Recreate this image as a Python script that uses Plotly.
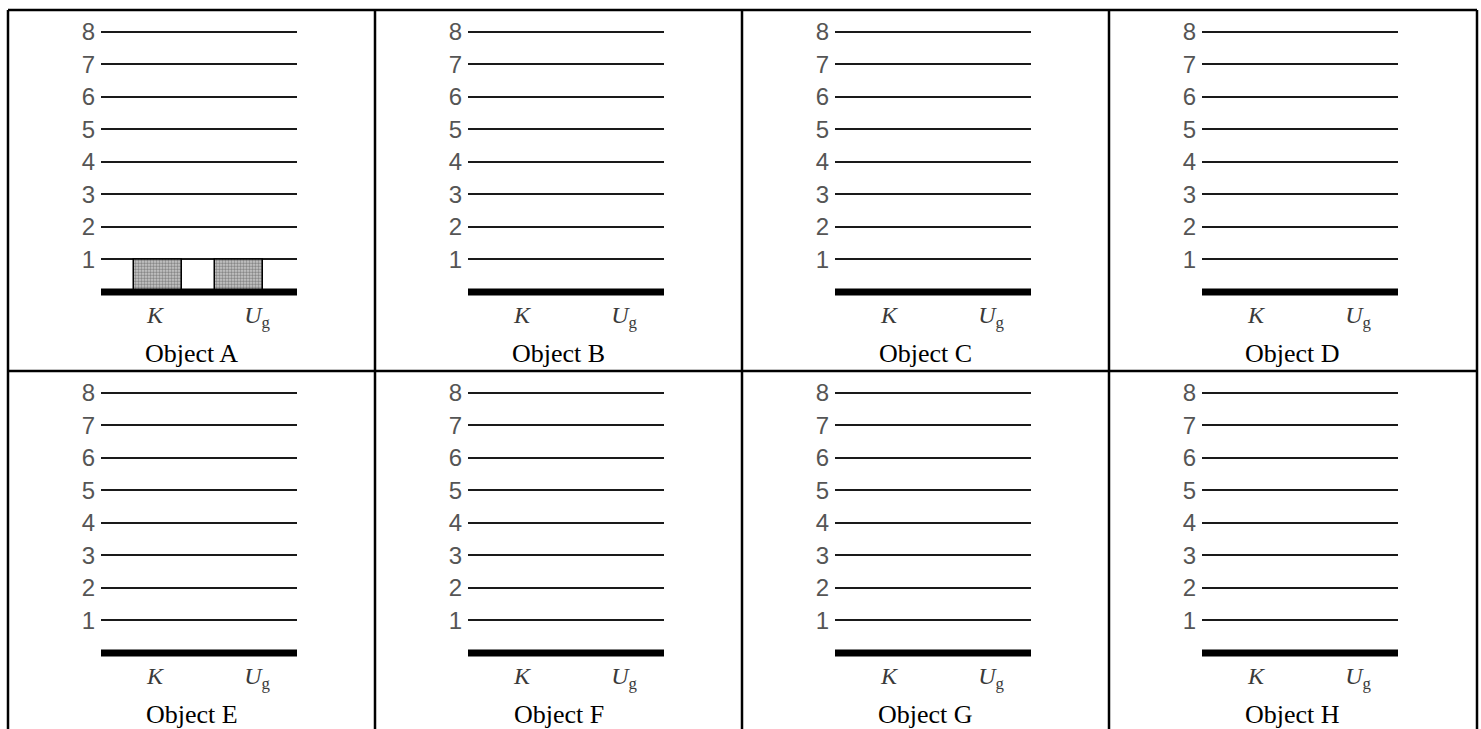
import plotly.graph_objects as go

# Energy bar charts for eight objects: kinetic energy K and gravitational potential U_g
objects = ["Object A", "Object B", "Object C", "Object D",
           "Object E", "Object F", "Object G", "Object H"]
categories = ["K", "U_g"]
category_labels = ["<i>K</i>", "<i>U</i><sub>g</sub>"]
k_values = [1, 0, 0, 0, 0, 0, 0, 0]
ug_values = [1, 0, 0, 0, 0, 0, 0, 0]
level_ticks = [1, 2, 3, 4, 5, 6, 7, 8]

W, H = 1481, 729
col_left = [8, 375, 742, 1109]
col_w = 367
row_top = [6, 369]

Y_MIN, Y_MAX = -0.2, 8.3
UNIT = 32.72            # pixels per energy unit
ZERO_OFF = 283.5        # pixel offset of the zero level below the cell top


def px_x(p):
    return p / W


def px_y(p):
    return 1 - p / H


fig = go.Figure()
shapes = []
annotations = []

for i, name in enumerate(objects):
    r, c = divmod(i, 4)
    n = i + 1
    sfx = "" if n == 1 else str(n)
    left = col_left[c]
    top = row_top[r]

    x0p, x1p = left + 93, left + 289
    y_top_p = top + ZERO_OFF - Y_MAX * UNIT
    y_bot_p = top + ZERO_OFF - Y_MIN * UNIT

    fig.add_trace(go.Bar(
        x=categories,
        y=[k_values[i], ug_values[i]],
        width=0.475,
        offset=[-0.206, -0.412],
        marker=dict(
            color="#a0a0a0",
            line=dict(color="black", width=1.5),
            pattern=dict(shape=".", size=3, solidity=0.6,
                         fgcolor="#333333", bgcolor="#d4d4d4"),
        ),
        xaxis="x" + sfx, yaxis="y" + sfx,
        showlegend=False, hoverinfo="skip",
    ))

    fig.layout["xaxis" + sfx] = dict(
        domain=[px_x(x0p), px_x(x1p)],
        anchor="y" + sfx,
        type="category",
        categoryorder="array", categoryarray=categories,
        range=[-0.529, 1.392],
        tickvals=categories, ticktext=category_labels,
        tickfont=dict(family="Liberation Serif", size=24, color="#3a3a3a"),
        showgrid=False, zeroline=False, showline=False, ticks="",
        ticklabelstandoff=0,
        fixedrange=True,
    )
    fig.layout["yaxis" + sfx] = dict(
        domain=[px_y(y_bot_p), px_y(y_top_p)],
        anchor="x" + sfx,
        range=[Y_MIN, Y_MAX],
        tickvals=level_ticks,
        tickfont=dict(family="Liberation Sans", size=24, color="#555"),
        showgrid=True, gridcolor="#1a1a1a", gridwidth=1.6,
        zeroline=False, showline=False, ticks="",
        ticklabelstandoff=5,
        fixedrange=True,
    )

    # thick ground line at the zero level
    shapes.append(dict(
        type="line", xref="x" + sfx + " domain", yref="y" + sfx,
        x0=0, x1=1, y0=0, y1=0, layer="above",
        line=dict(color="black", width=7),
    ))

    annotations.append(dict(
        text=name, xref="paper", yref="paper",
        x=px_x(left + col_w / 2), y=px_y(top + 345),
        xanchor="center", yanchor="middle", showarrow=False,
        font=dict(family="Liberation Serif", size=26, color="black"),
    ))

# table grid
border = dict(color="black", width=2.5)
for xp in col_left + [col_left[-1] + col_w + 1]:
    shapes.append(dict(type="line", xref="paper", yref="paper",
                       x0=px_x(xp), x1=px_x(xp), y0=px_y(row_top[0]), y1=px_y(H + 5),
                       line=border))
for yp in row_top:
    shapes.append(dict(type="line", xref="paper", yref="paper",
                       x0=px_x(col_left[0]), x1=px_x(col_left[-1] + col_w + 1),
                       y0=px_y(yp), y1=px_y(yp), line=border))

fig.update_layout(
    width=W, height=H,
    margin=dict(l=0, r=0, t=0, b=0),
    paper_bgcolor="white", plot_bgcolor="white",
    shapes=shapes, annotations=annotations,
    bargap=0,
)

fig.write_html("out.html", config={"displayModeBar": False})
